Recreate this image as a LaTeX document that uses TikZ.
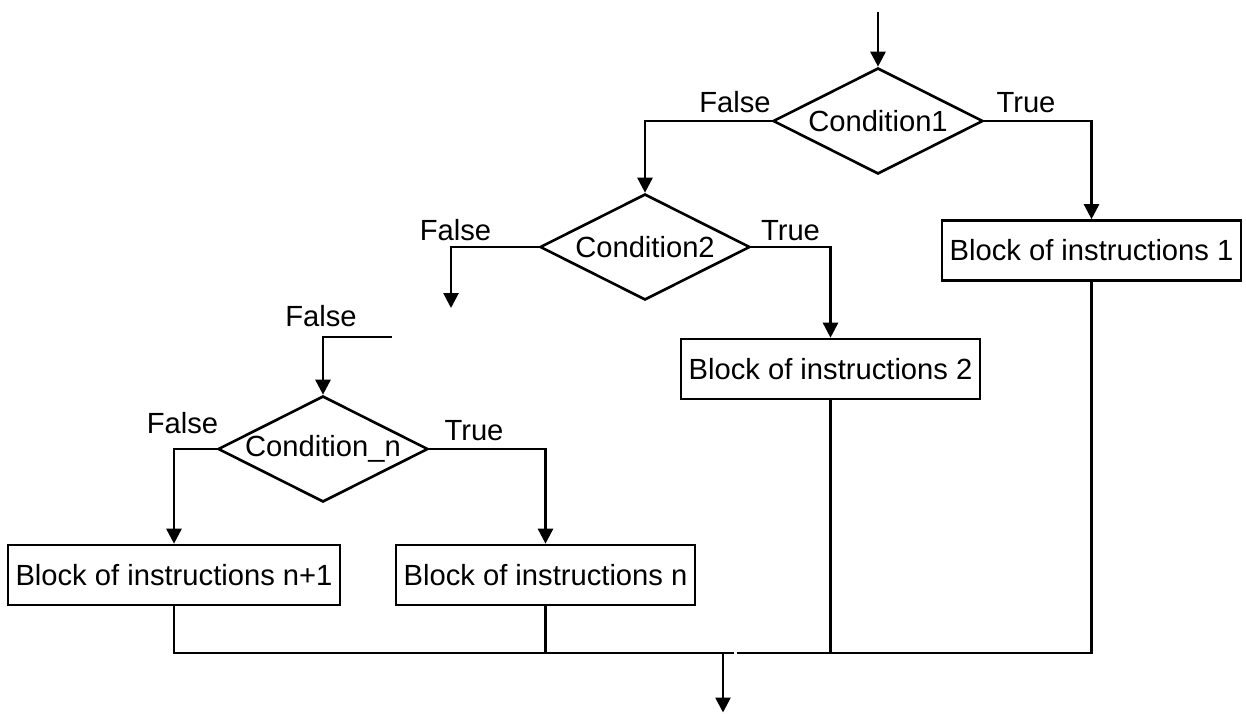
\documentclass[tikz,border=0pt]{standalone}
\usepackage{fontspec}
\setmainfont{Liberation Sans}
\usetikzlibrary{shapes.geometric, arrows.meta}

\begin{document}
\begin{tikzpicture}[>={Triangle[length=0.3cm,width=0.3cm]}, line width=1.5pt,
        font=\fontsize{16.6}{19.9}\selectfont,
        cond/.style={draw, diamond, aspect=2, inner sep=0pt, minimum width=4.2cm, minimum height=2.12cm},
        block/.style={draw, rectangle, inner xsep=0.15cm, minimum height=1.2cm},
        lbl/.style={anchor=base, inner sep=0pt}]
    \useasboundingbox (0,0) rectangle (24.92,-14.26);

    % Conditions
    \node[cond] (c1) at (17.56,-2.42) {Condition1};
    \node[cond] (c2) at (12.9,-4.94) {Condition2};
    \node[cond] (cn) at (6.46,-8.98) {Condition\_n};

    % Blocks
    \node[block] (b1) at (21.83,-5.01) {Block of instructions 1};
    \node[block] (b2) at (16.61,-7.38) {Block of instructions 2};
    \node[block] (bn) at (10.91,-11.5) {Block of instructions n};
    \node[block] (bn1) at (3.48,-11.5) {Block of instructions n+1};

    % Labels
    \node[lbl] (f1) at (14.7,-2.24) {False};
    \node[lbl] (t1) at (20.52,-2.24) {True};
    \node[lbl] (f2) at (9.11,-4.8) {False};
    \node[lbl] (t2) at (15.81,-4.8) {True};
    \node[lbl] (fin) at (6.42,-6.52) {False};
    \node[lbl] (fn) at (3.65,-8.66) {False};
    \node[lbl] (tn) at (9.48,-8.8) {True};

    % Free ends
    \coordinate (start) at (17.56,-0.24);
    \coordinate (f2end) at (9.02,-6.16);
    \coordinate (nin) at (7.84,-6.74);
    \coordinate (jl) at (14.68,-13.06);
    \coordinate (jr) at (14.74,-13.06);
    \coordinate (out) at (14.46,-13.06);
    \coordinate (stop) at (14.46,-14.25);

    % Branches
    \draw[->] (start) -- (c1.north);
    \draw[->] (c1.west) -| (c2.north);
    \draw[->] (c1.east) -| (b1.north);
    \draw[->] (c2.west) -| (f2end);
    \draw[->] (c2.east) -| (b2.north);
    \draw[->] (nin) -| (cn.north);
    \draw[->] (cn.west) -| (bn1.north);
    \draw[->] (cn.east) -| (bn.north);

    % Merge
    \draw (bn1.south) |- (jl);
    \draw (bn.south) -- (bn.south |- jl);
    \draw (b1.south) |- (jr);
    \draw (b2.south) -- (b2.south |- jr);
    \draw[->] (out) -- (stop);
\end{tikzpicture}
\end{document}
